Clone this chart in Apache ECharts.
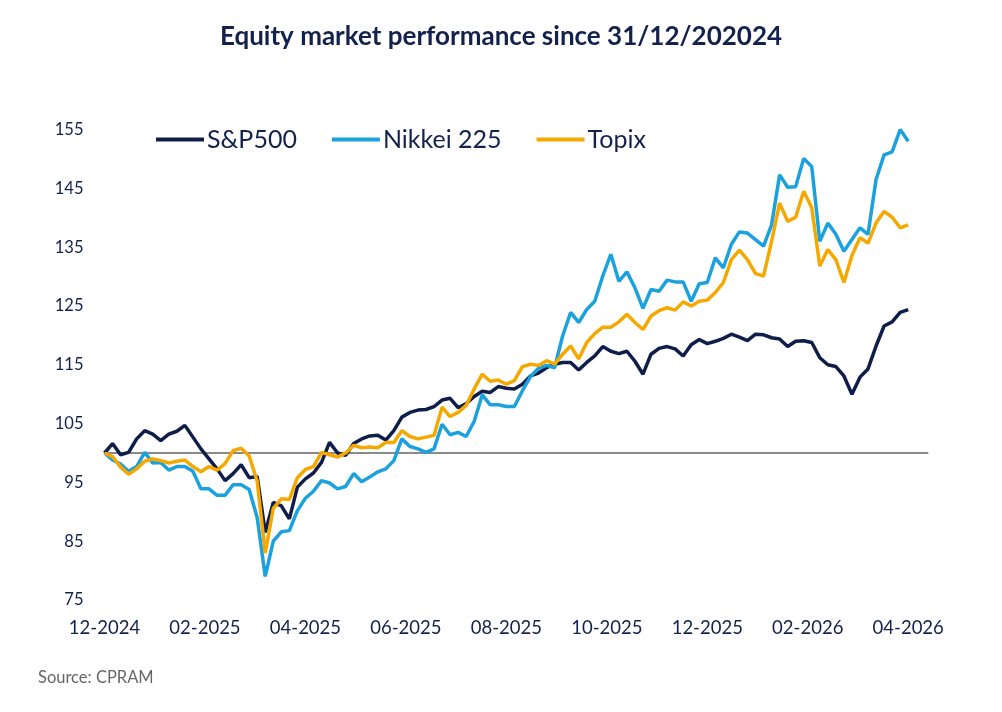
<!DOCTYPE html>
<html>
<head>
<meta charset="utf-8">
<script src="https://cdn.jsdelivr.net/npm/echarts@6/dist/echarts.min.js"></script>
<style>
  html, body { margin: 0; padding: 0; background: #ffffff; }
  #chart { width: 1002px; height: 712px; }
</style>
</head>
<body>
<div id="chart"></div>
<script>
// Tick labels (one every 2 months, starting at 31/12/2024)
const tickLabels = ['12-2024','02-2025','04-2025','06-2025','08-2025','10-2025','12-2025','02-2026','04-2026'];
// Sample spacing in tick units (values read at equally spaced points along the x axis)
const sampleStep = 0.08;

const sp500 = [100.0,101.6,99.7,100.1,102.4,103.8,103.2,102.1,103.2,103.7,
  104.7,102.7,100.7,99.0,97.3,95.3,96.5,98.0,95.8,96.0,
  86.5,91.6,91.0,88.8,94.2,95.6,96.6,98.4,101.8,100.0,
  99.6,101.6,102.4,102.9,103.0,102.2,103.8,106.1,106.9,107.3,
  107.4,107.9,109.0,109.3,107.7,108.4,109.6,110.5,110.3,111.3,
  111.0,110.9,111.7,113.1,113.6,114.5,115.1,115.4,115.4,114.1,
  115.4,116.5,118.1,117.3,116.9,117.3,115.6,113.4,116.8,117.8,
  118.1,117.7,116.5,118.4,119.3,118.6,119.0,119.5,120.2,119.7,
  119.1,120.2,120.1,119.6,119.4,118.1,119.0,119.1,118.8,116.2,
  115.0,114.7,113.1,110.0,112.9,114.3,118.2,121.6,122.3,123.9,
  124.4];

const nikkei225 = [100.0,98.8,98.1,96.9,97.7,100.1,98.3,98.4,97.1,97.7,
  97.7,96.9,93.9,93.9,92.8,92.8,94.6,94.6,93.8,89.0,
  79.0,85.0,86.6,86.8,90.2,92.3,93.5,95.3,94.9,93.9,
  94.3,96.5,95.1,95.9,96.8,97.3,98.7,102.4,101.1,100.7,
  100.1,100.7,104.9,103.1,103.5,102.8,105.4,109.9,108.2,108.2,
  107.9,107.9,110.6,113.0,114.4,114.9,114.5,119.9,123.9,122.2,
  124.4,125.8,130.1,133.8,129.2,130.8,128.1,124.6,127.8,127.5,
  129.4,129.1,129.1,125.8,128.8,129.0,133.2,131.5,135.5,137.6,
  137.4,136.3,135.2,138.8,147.3,145.2,145.3,150.1,148.7,136.0,
  139.1,137.2,134.3,136.3,138.3,137.2,146.5,150.7,151.2,155.0,
  153.0];

const topix = [100.0,99.4,97.6,96.4,97.3,98.6,99.0,98.7,98.3,98.6,
  98.8,97.7,96.8,97.7,97.1,98.2,100.4,100.8,99.5,95.2,
  83.0,90.6,92.2,92.1,95.8,97.2,97.7,100.1,99.7,99.3,
  100.0,101.3,100.9,101.0,100.9,101.8,101.8,103.8,102.8,102.4,
  102.7,103.0,107.8,106.2,106.9,108.1,110.9,113.4,112.2,112.4,
  111.7,112.3,114.7,115.1,114.9,115.7,115.1,116.8,118.2,116.0,
  118.8,120.3,121.4,121.4,122.3,123.6,122.2,121.0,123.3,124.2,
  124.7,124.3,125.7,125.0,125.8,126.0,127.3,129.0,132.9,134.5,
  132.9,130.5,130.1,136.0,142.5,139.4,140.1,144.5,141.7,131.8,
  134.6,132.9,129.0,133.6,136.6,135.7,139.1,141.1,140.1,138.3,
  138.8];

const seriesNames = ['S&P500', 'Nikkei 225', 'Topix'];
const colors = ['#0f1d4a', '#1ba1dd', '#f5a800'];
const textColor = '#13214d';
const FONT = 'Lato, "Open Sans", sans-serif';

function toPairs(arr) { return arr.map((v, i) => [+(i * sampleStep).toFixed(4), v]); }

const chart = echarts.init(document.getElementById('chart'), null, { renderer: 'canvas' });
chart.setOption({
  animation: false,
  backgroundColor: '#ffffff',
  textStyle: { fontFamily: FONT },
  title: {
    text: 'Equity market performance since 31/12/202024',
    left: 'center',
    top: 19,
    textStyle: { fontFamily: FONT, fontSize: 26, fontWeight: 'bold', color: textColor }
  },
  legend: {
    data: seriesNames,
    left: 156,
    top: 127,
    icon: 'rect',
    itemWidth: 48,
    itemHeight: 4,
    itemGap: 35,
    padding: 0,
    textStyle: { fontFamily: FONT, fontSize: 25, color: textColor, padding: [0, 0, 0, -2] }
  },
  grid: { left: 104.5, right: 73.7, top: 100.2, bottom: 112, containLabel: false },
  xAxis: {
    type: 'value',
    min: 0,
    max: 8.2,
    interval: 1,
    axisLine: { show: false },
    axisTick: { show: false },
    splitLine: { show: false },
    axisLabel: {
      showMaxLabel: false,
      margin: 19,
      fontFamily: FONT,
      fontSize: 18.5,
      color: textColor,
      formatter: v => (Number.isInteger(v) && tickLabels[v] !== undefined) ? tickLabels[v] : ''
    }
  },
  yAxis: {
    type: 'value',
    min: 75,
    max: 160,
    interval: 10,
    axisLine: { show: false },
    axisTick: { show: false },
    splitLine: { show: false },
    axisLabel: {
      showMaxLabel: false,
      margin: 21,
      fontFamily: FONT,
      fontSize: 16.5,
      color: textColor,
      formatter: v => ((v - 75) % 10 === 0 ? String(v) : '')
    }
  },
  series: [
    {
      name: seriesNames[0], type: 'line', data: toPairs(sp500), showSymbol: false, z: 3,
      lineStyle: { width: 3.5, color: colors[0] }, itemStyle: { color: colors[0] },
      markLine: {
        silent: true, symbol: 'none', z: 1, animation: false,
        label: { show: false },
        lineStyle: { color: '#8a8a8a', width: 2, type: 'solid' },
        data: [{ yAxis: 100 }]
      }
    },
    {
      name: seriesNames[1], type: 'line', data: toPairs(nikkei225), showSymbol: false, z: 4,
      lineStyle: { width: 3.5, color: colors[1] }, itemStyle: { color: colors[1] }
    },
    {
      name: seriesNames[2], type: 'line', data: toPairs(topix), showSymbol: false, z: 5,
      lineStyle: { width: 3.5, color: colors[2] }, itemStyle: { color: colors[2] }
    }
  ],
  graphic: [
    {
      type: 'text', left: 38, top: 669,
      style: { text: 'Source: CPRAM', fontFamily: FONT, fontSize: 16.5, fill: '#666666' }
    }
  ]
});
</script>
</body>
</html>
